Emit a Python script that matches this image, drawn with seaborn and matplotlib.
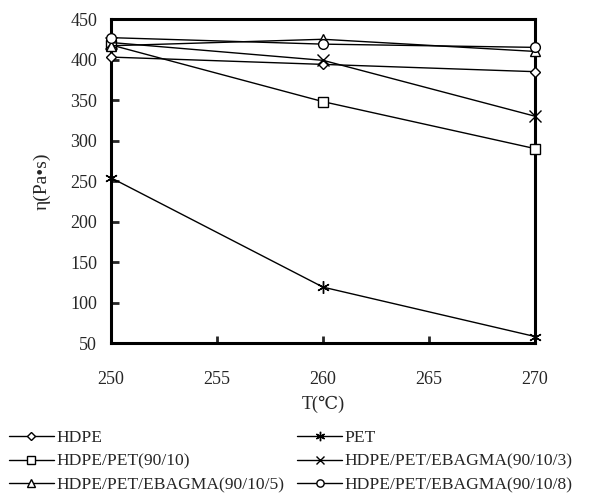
import pandas as pd
import seaborn as sns
import matplotlib.pyplot as plt
from matplotlib.lines import Line2D

temps = [250, 260, 270]
hdpe = [403, 394, 385]
pet = [254, 119, 58]
hdpe_pet = [418, 348, 290]
eba3 = [421, 399, 330]
eba5 = [417, 425, 410]
eba8 = [427, 419, 415]

names = ["HDPE", "PET", "HDPE/PET(90/10)", "HDPE/PET/EBAGMA(90/10/3)",
         "HDPE/PET/EBAGMA(90/10/5)", "HDPE/PET/EBAGMA(90/10/8)"]
series = [hdpe, pet, hdpe_pet, eba3, eba5, eba8]
marks = ["D", (6, 2, 0), "s", "x", "^", "o"]
msizes = [5, 9, 7, 8, 7, 7]

rows = []
for n, vals in zip(names, series):
    for t, v in zip(temps, vals):
        rows.append({"T": t, "eta": v, "sample": n})
df = pd.DataFrame(rows)

sns.set_style("ticks")
plt.rcParams["font.family"] = ["Liberation Serif", "DejaVu Serif"]

fig = plt.figure(figsize=(6.08, 4.98), dpi=100)
ax = fig.add_axes([0.1826, 0.3112, 0.6974, 0.6506])

for n, m, ms in zip(names, marks, msizes):
    sub = df[df["sample"] == n]
    sns.lineplot(data=sub, x="T", y="eta", ax=ax, color="black", linewidth=1,
                 marker=m, markersize=ms, markerfacecolor="white",
                 markeredgecolor="black", markeredgewidth=1, legend=False,
                 clip_on=False, zorder=5)

ax.set_xlim(250, 270)
ax.set_ylim(50, 450)
ax.set_xticks(range(250, 271, 5))
ax.set_yticks(range(50, 451, 50))
ax.tick_params(axis="x", direction="in", length=5, width=2, pad=20, labelsize=13)
ax.tick_params(axis="y", direction="in", length=6, width=2, pad=10, labelsize=13)
for s in ax.spines.values():
    s.set_linewidth(2.2)
    s.set_color("black")
ax.set_xlabel("T(℃)", fontsize=13, labelpad=6)
ax.set_ylabel("η(Pa•s)", fontsize=14, labelpad=14)

handles = [Line2D([], [], color="black", linewidth=1, marker=m, markersize=ms * 0.75,
                  markerfacecolor="white", markeredgecolor="black")
           for m, ms in zip(marks, msizes)]
order = [0, 2, 4, 1, 3, 5]
fig.legend([handles[i] for i in order], [names[i] for i in order],
           loc="upper left", bbox_to_anchor=(0.012, 0.140), bbox_transform=fig.transFigure,
           ncol=2, frameon=False, fontsize=12.6, handlelength=2.55,
           handletextpad=0.15, columnspacing=0.75, labelspacing=0.42,
           borderaxespad=0, borderpad=0.1)

fig.savefig("out.png", dpi=100)
